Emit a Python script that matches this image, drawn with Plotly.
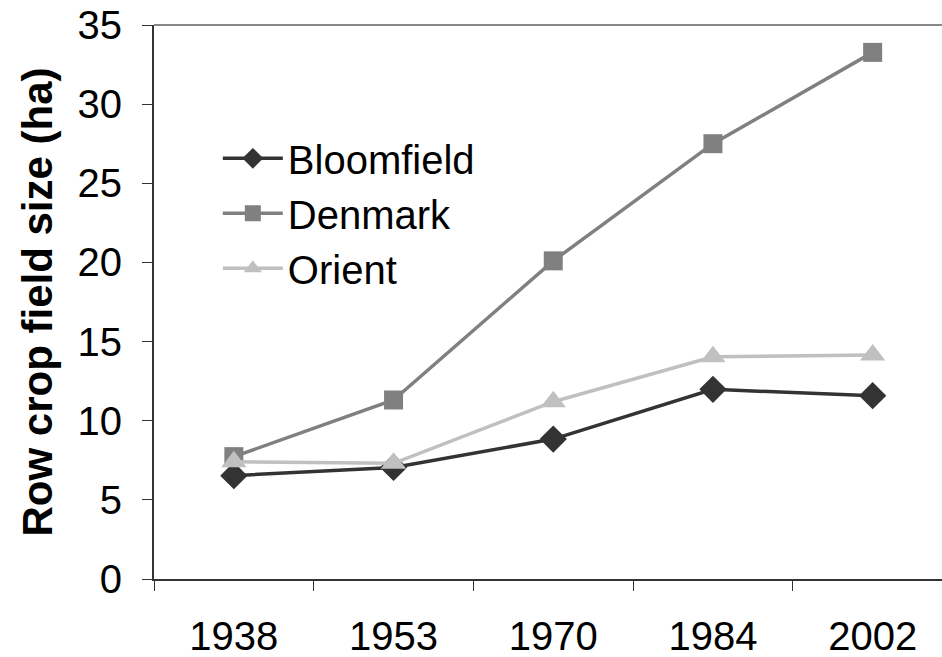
import plotly.graph_objects as go

years = ["1938", "1953", "1970", "1984", "2002"]
bloomfield = [6.53, 7.05, 8.84, 11.98, 11.58]
denmark = [7.73, 11.31, 20.1, 27.5, 33.27]
orient = [7.41, 7.31, 11.2, 14.04, 14.15]
y_ticks = [0, 5, 10, 15, 20, 25, 30, 35]

FONT = "Liberation Sans, Arial, sans-serif"

fig = go.Figure()
fig.add_trace(go.Scatter(x=years, y=bloomfield, name="Bloomfield", mode="lines+markers",
                         line=dict(color="#333333", width=3.5),
                         marker=dict(symbol="diamond", size=21, color="#333333")))
fig.add_trace(go.Scatter(x=years, y=denmark, name="Denmark", mode="lines+markers",
                         line=dict(color="#808080", width=3.5),
                         marker=dict(symbol="square", size=19, color="#808080")))
fig.add_trace(go.Scatter(x=years, y=orient, name="Orient", mode="lines+markers",
                         line=dict(color="#c0c0c0", width=3.5),
                         marker=dict(symbol="triangle-up", size=22, color="#c0c0c0")))

L = 154
plot_w = 942 - L
cat_w = 159.7
fig.update_layout(
    width=942, height=657,
    margin=dict(l=L, r=0, t=25, b=78, autoexpand=False),
    paper_bgcolor="white", plot_bgcolor="white",
    font=dict(family=FONT, size=40, color="black"),
    showlegend=True,
    legend=dict(x=0.081, y=0.818, xanchor="left", yanchor="top",
                bgcolor="rgba(0,0,0,0)", font=dict(size=40, family=FONT, color="black"),
                itemwidth=60),
    xaxis=dict(type="category", range=[-0.5, -0.5 + plot_w / cat_w],
               showline=True, linecolor="#333333", linewidth=2, automargin=False,
               ticks="outside", tickson="boundaries", ticklen=10, tickcolor="#333333",
               tickwidth=1, showgrid=False, zeroline=False, ticklabelstandoff=21,
               ticklabeloverflow="allow",
               tickfont=dict(size=40, family=FONT, color="black")),
    yaxis=dict(range=[0, 35], tickvals=y_ticks, showline=True, linecolor="#333333",
               linewidth=2, ticks="outside", ticklen=10, tickcolor="#333333",
               showgrid=False, zeroline=False, ticklabelstandoff=12, automargin=False,
               ticklabeloverflow="allow",
               tickfont=dict(size=40, family=FONT, color="black"),
               title=dict(text="<b>Row crop field size (ha)</b>",
                          font=dict(size=42, family=FONT, color="black"), standoff=12)),
    shapes=[dict(type="line", xref="paper", yref="paper", x0=0, x1=1, y0=1, y1=1,
                 line=dict(color="#888888", width=2))],
)

fig.write_html("out.html",
               config={"displayModeBar": False},
               post_script="document.body.style.margin='0';document.body.style.overflow='hidden';")
